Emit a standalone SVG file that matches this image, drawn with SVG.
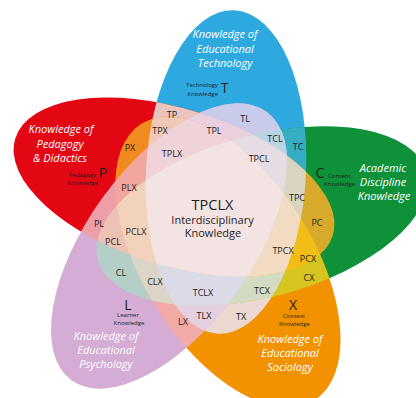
<svg xmlns="http://www.w3.org/2000/svg" width="416" height="398" viewBox="0 0 416 398">
<style>
.lb{font-family:"Open Sans","Liberation Sans",sans-serif;font-size:9px;fill:#1e1e1e;text-anchor:middle}
.tt{font-family:"Open Sans","Liberation Sans",sans-serif;font-size:11px;font-style:italic;fill:#fff;text-anchor:middle}
.big{font-family:"Open Sans","Liberation Sans",sans-serif;font-size:14px;fill:#1e1e1e;text-anchor:middle}
.sm{font-family:"Open Sans","Liberation Sans",sans-serif;font-size:6px;fill:#1e1e1e;text-anchor:middle}
.sme{font-family:"Open Sans","Liberation Sans",sans-serif;font-size:6px;fill:#1e1e1e;text-anchor:end}
.ct{font-family:"Open Sans","Liberation Sans",sans-serif;fill:#1e1e1e;text-anchor:middle}
</style>
<defs>
<ellipse id="eT" cx="226" cy="172" rx="80" ry="162" transform="rotate(3 226 172)"/>
<ellipse id="eP" cx="174" cy="187" rx="166" ry="78.5" transform="rotate(17 174 187)"/>
<ellipse id="eC" cx="262" cy="216" rx="170" ry="81" transform="rotate(-15 262 216)"/>
<ellipse id="eX" cx="228" cy="262" rx="163" ry="85" transform="rotate(58 228 262)"/>
<ellipse id="eL" cx="169" cy="246" rx="166" ry="82" transform="rotate(-54 169 246)"/>
<clipPath id="cT"><use href="#eT"/></clipPath>
<clipPath id="cP"><use href="#eP"/></clipPath>
<clipPath id="cC"><use href="#eC"/></clipPath>
<clipPath id="cX"><use href="#eX"/></clipPath>
<clipPath id="cL"><use href="#eL"/></clipPath>
</defs>
<rect width="416" height="398" fill="#fff"/>

<g id="petals">
<use id="T" href="#eT" fill="#2ea9df"/>
<use id="P" href="#eP" fill="#e30613"/>
<use id="C" href="#eC" fill="#0e9139"/>
<use id="X" href="#eX" fill="#f39200"/>
<use id="L" href="#eL" fill="#d4acd4"/>
</g>

<g id="pairs">
<g id="TP" clip-path="url(#cT)"><use href="#eP" fill="#e8c5bf"/></g>
<g id="TC" clip-path="url(#cT)"><use href="#eC" fill="#37adc3"/></g>
<g id="TX" clip-path="url(#cT)"><use href="#eX" fill="#ebd8d1"/></g>
<g id="TL" clip-path="url(#cT)"><use href="#eL" fill="#c8cbea"/></g>
<g id="PC" clip-path="url(#cP)"><use href="#eC" fill="#d8aa2b"/></g>
<g id="PX" clip-path="url(#cP)"><use href="#eX" fill="#f18b1f"/></g>
<g id="PL" clip-path="url(#cP)"><use href="#eL" fill="#ee9ea6"/></g>
<g id="CX" clip-path="url(#cC)"><use href="#eX" fill="#d6c520"/></g>
<g id="CL" clip-path="url(#cC)"><use href="#eL" fill="#b4cfc7"/></g>
<g id="LX" clip-path="url(#cX)"><use href="#eL" fill="#f2aaa7"/></g>
</g>

<g id="triples">
<g id="TPC" clip-path="url(#cT)"><g clip-path="url(#cP)"><use href="#eC" fill="#d9d3c2"/></g></g>
<g id="TPX" clip-path="url(#cT)"><g clip-path="url(#cP)"><use href="#eX" fill="#efc9b6"/></g></g>
<g id="TPL" clip-path="url(#cT)"><g clip-path="url(#cP)"><use href="#eL" fill="#eacfde"/></g></g>
<g id="TCX" clip-path="url(#cT)"><g clip-path="url(#cC)"><use href="#eX" fill="#d4dbc3"/></g></g>
<g id="TCL" clip-path="url(#cT)"><g clip-path="url(#cC)"><use href="#eL" fill="#b9d4e5"/></g></g>
<g id="TLX" clip-path="url(#cT)"><g clip-path="url(#cX)"><use href="#eL" fill="#e5d0e1"/></g></g>
<g id="PCX" clip-path="url(#cP)"><g clip-path="url(#cC)"><use href="#eX" fill="#f3bd18"/></g></g>
<g id="PCL" clip-path="url(#cP)"><g clip-path="url(#cC)"><use href="#eL" fill="#eec1b5"/></g></g>
<g id="PLX" clip-path="url(#cP)"><g clip-path="url(#cX)"><use href="#eL" fill="#f2a69d"/></g></g>
<g id="CLX" clip-path="url(#cC)"><g clip-path="url(#cX)"><use href="#eL" fill="#dcd4c6"/></g></g>
</g>

<g id="quads">
<g id="TPCX" clip-path="url(#cT)"><g clip-path="url(#cP)"><g clip-path="url(#cC)"><use href="#eX" fill="#f2dcc1"/></g></g></g>
<g id="TPCL" clip-path="url(#cT)"><g clip-path="url(#cP)"><g clip-path="url(#cC)"><use href="#eL" fill="#e6dde4"/></g></g></g>
<g id="TPLX" clip-path="url(#cT)"><g clip-path="url(#cP)"><g clip-path="url(#cX)"><use href="#eL" fill="#f0d3d9"/></g></g></g>
<g id="TCLX" clip-path="url(#cT)"><g clip-path="url(#cC)"><g clip-path="url(#cX)"><use href="#eL" fill="#dbdae7"/></g></g></g>
<g id="PCLX" clip-path="url(#cP)"><g clip-path="url(#cC)"><g clip-path="url(#cX)"><use href="#eL" fill="#f2d2bb"/></g></g></g>
</g>

<g id="TPCLX" clip-path="url(#cT)"><g clip-path="url(#cP)"><g clip-path="url(#cC)"><g clip-path="url(#cX)"><use href="#eL" fill="#f4e3e3"/></g></g></g></g>

<g id="titles">
<text class="tt" x="225" y="38">Knowledge of</text>
<text class="tt" x="225" y="53">Educational</text>
<text class="tt" x="225" y="67">Technology</text>
<text class="tt" x="61" y="133">Knowledge of</text>
<text class="tt" x="60" y="148">Pedagogy</text>
<text class="tt" x="60" y="162">&amp; Didactics</text>
<text class="tt" x="383" y="172">Academic</text>
<text class="tt" x="383" y="186">Discipline</text>
<text class="tt" x="384" y="200">Knowledge</text>
<text class="tt" x="106" y="340">Knowledge of</text>
<text class="tt" x="106" y="354">Educational</text>
<text class="tt" x="106" y="368">Psychology</text>
<text class="tt" x="290" y="343">Knowledge of</text>
<text class="tt" x="290" y="357">Educational</text>
<text class="tt" x="290" y="371">Sociology</text>
</g>

<g id="domains">
<text class="big" x="224.5" y="93">T</text>
<text class="sme" x="218" y="87">Technology</text>
<text class="sme" x="218" y="96">Knowledge</text>
<text class="big" x="103" y="178">P</text>
<text class="sm" x="82.5" y="177">Pedagogy</text>
<text class="sm" x="82.5" y="185">Knowledge</text>
<text class="big" x="320" y="178">C</text>
<text class="sm" x="339.5" y="178">Content</text>
<text class="sm" x="339.5" y="186">Knowledge</text>
<text class="big" x="128" y="310">L</text>
<text class="sm" x="128" y="317">Learner</text>
<text class="sm" x="129" y="325">Knowledge</text>
<text class="big" x="293" y="310">X</text>
<text class="sm" x="294" y="318">Context</text>
<text class="sm" x="294.5" y="326">Knowledge</text>
</g>

<g id="labels">
<text class="lb" x="172" y="117.5">TP</text>
<text class="lb" x="160" y="133.5">TPX</text>
<text class="lb" x="130" y="150.5">PX</text>
<text class="lb" x="172" y="156.5">TPLX</text>
<text class="lb" x="129" y="190.5">PLX</text>
<text class="lb" x="245" y="121.5">TL</text>
<text class="lb" x="214" y="133.5">TPL</text>
<text class="lb" x="275" y="141.5">TCL</text>
<text class="lb" x="298" y="149.5">TC</text>
<text class="lb" x="259" y="161.5">TPCL</text>
<text class="lb" x="297" y="200.5">TPC</text>
<text class="lb" x="99" y="226.5">PL</text>
<text class="lb" x="136" y="234.5">PCLX</text>
<text class="lb" x="113" y="244.5">PCL</text>
<text class="lb" x="121" y="275.5">CL</text>
<text class="lb" x="155" y="284.5">CLX</text>
<text class="lb" x="203" y="295.5">TCLX</text>
<text class="lb" x="183" y="324.5">LX</text>
<text class="lb" x="204" y="318.5">TLX</text>
<text class="lb" x="283" y="253.5">TPCX</text>
<text class="lb" x="317" y="225.5">PC</text>
<text class="lb" x="308" y="261.5">PCX</text>
<text class="lb" x="309" y="280.5">CX</text>
<text class="lb" x="262" y="293.5">TCX</text>
<text class="lb" x="241" y="319.5">TX</text>
</g>

<g id="center">
<text class="ct" x="212.5" y="210" font-size="14.5">TPCLX</text>
<text class="ct" x="212.5" y="223.5" font-size="11">Interdisciplinary</text>
<text class="ct" x="213" y="237" font-size="11">Knowledge</text>
</g>
</svg>
